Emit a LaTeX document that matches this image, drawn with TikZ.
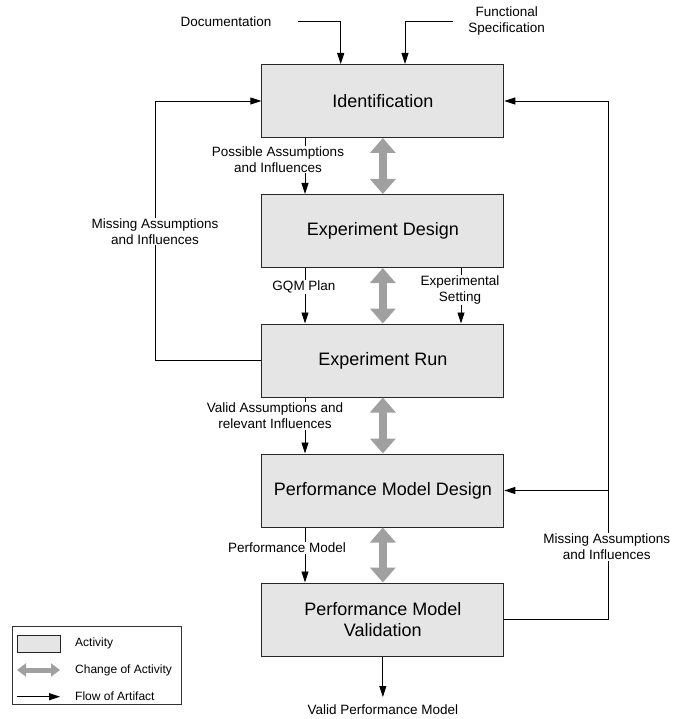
\documentclass[tikz,border=0pt]{standalone}
\usepackage{fontspec}
\setmainfont{Liberation Sans}
\usetikzlibrary{arrows.meta}
\definecolor{boxfill}{RGB}{229,229,229}
\definecolor{changegray}{RGB}{160,160,160}
\begin{document}
\begin{tikzpicture}[x=1pt,y=-1pt,
  activity/.style={draw=black!85, line width=1pt, fill=boxfill, minimum width=242pt,
    minimum height=73pt, inner sep=0pt, align=center, font=\fontsize{18}{20.7}\selectfont},
  flow/.style={draw=black, line width=0.9pt, -{Triangle[length=11pt,width=7pt]}},
  change/.style={draw=changegray, line width=8pt,
    {Triangle[length=15pt,width=25pt]}-{Triangle[length=15pt,width=25pt]}},
  lbl/.style={font=\fontsize{13.5}{15.7}\selectfont, align=center, inner sep=1pt},
  onlbl/.style={lbl, fill=white},
  legtext/.style={font=\fontsize{12}{14}\selectfont, anchor=west, inner sep=0pt}
]
\useasboundingbox (0,0) rectangle (672,719);

% activities
\node[activity] (id)  at (382.85,101)   {Identification};
\node[activity] (ed)  at (382.85,231)   {Experiment Design};
\node[activity] (er)  at (382.85,360.5) {Experiment Run};
\node[activity] (pmd) at (382.85,490.5) {Performance Model Design};
\node[activity] (pmv) at (382.85,619.5) {Performance Model\\Validation};

% change of activity
\draw[change] (id.south)  -- (ed.north);
\draw[change] (ed.south)  -- (er.north);
\draw[change] (er.south)  -- (pmd.north);
\draw[change] (pmd.south) -- (pmv.north);

% artifact columns
\coordinate (colL) at (305,0);
\coordinate (colR) at (461,0);

% inputs
\node[lbl] (doc) at (226,21.7) {Documentation};
\coordinate (docsrc) at (297.7,21.7);
\draw[flow] (docsrc) -| ([xshift=-42.15pt]id.north);
\node[lbl] (fs) at (506.7,21.3) {Functional\\Specification};
\coordinate (fssrc) at (453,21.7);
\draw[flow] (fssrc) -| ([xshift=22.15pt]id.north);

% artifact flows
\draw[flow] (id.south -| colL)  -- (ed.north -| colL);
\draw[flow] (ed.south -| colL)  -- (er.north -| colL);
\draw[flow] (ed.south -| colR)  -- (er.north -| colR);
\draw[flow] (er.south -| colL)  -- (pmd.north -| colL);
\draw[flow] (pmd.south -| colL) -- (pmv.north -| colL);
\coordinate (vpmtip) at (382.85,697);
\draw[flow] (pmv.south) -- (vpmtip);

% feedback loops
\coordinate (lcorner) at (155.7,360.5);
\draw[flow] (er.west) -- (lcorner) |- (id.west);
\coordinate (rcorner) at (608.3,619.5);
\draw[flow] (pmv.east) -- (rcorner) |- (id.east);
\draw[flow] (rcorner |- pmd.east) -- (pmd.east);

% labels
\node[onlbl] (l1) at (278,159.5)   {Possible Assumptions\\and Influences};
\node[onlbl] (l2) at (304,287.3)   {GQM Plan};
\node[onlbl] (l3) at (460,290)     {Experimental\\Setting};
\node[onlbl] (l4) at (275,416)     {Valid Assumptions and\\relevant Influences};
\node[onlbl] (l5) at (287,548)     {Performance Model};
\node[onlbl] (l6) at (155,231.5)   {Missing Assumptions\\and Influences};
\node[onlbl] (l7) at (606.7,547)   {Missing Assumptions\\and Influences};
\node[lbl]   (vpm) at (382.85,710) {Valid Performance Model};

% legend
\node[draw=black!80, line width=0.8pt, minimum width=169pt, minimum height=77.3pt,
  inner sep=0pt] (legend) at (97.2,665.35) {};
\node[draw=black!85, line width=0.9pt, fill=boxfill, minimum width=43pt,
  minimum height=17.3pt, inner sep=0pt] (legbox) at (38.8,643.65) {};
\coordinate (legcA) at (17,670);
\coordinate (legcB) at (60,670);
\draw[draw=changegray, line width=5pt,
  {Triangle[length=9pt,width=13pt]}-{Triangle[length=9pt,width=13pt]}] (legcA) -- (legcB);
\coordinate (legfA) at (16.7,696.7);
\coordinate (legfB) at (60,696.7);
\draw[flow] (legfA) -- (legfB);
\node[legtext] (legt1) at (75,643.3) {Activity};
\node[legtext] (legt2) at (75,670)   {Change of Activity};
\node[legtext] (legt3) at (75,696.7) {Flow of Artifact};
\end{tikzpicture}
\end{document}
